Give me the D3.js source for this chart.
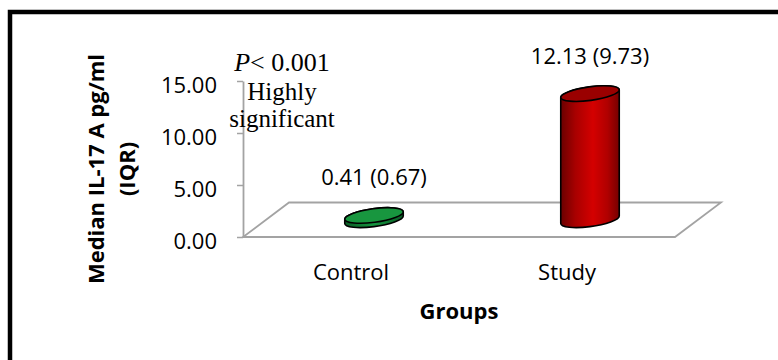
<!DOCTYPE html>
<html>
<head>
<meta charset="utf-8">
<script src="https://cdn.jsdelivr.net/npm/d3@7/dist/d3.min.js"></script>
<style>
  html, body { margin: 0; padding: 0; background: #ffffff; }
  svg { display: block; }
</style>
</head>
<body>
<svg id="chart" width="778" height="360"></svg>
<script>
// Median IL-17 A (IQR) by group
const categories = ["Control", "Study"];
const medians = [0.41, 12.13];
const iqrs = [0.67, 9.73];
const yTicks = [0, 5, 10, 15];
const noteLines = ["Highly", "significant"];

const svg = d3.select("#chart");
const sans = "'Open Sans', 'Noto Sans', sans-serif";
const serif = "'Liberation Serif', 'DejaVu Serif', serif";
const grey = "#a3a3a3";

// outer frame (runs off the right and bottom edges)
svg.append("rect")
  .attr("x", 10).attr("y", 12)
  .attr("width", 820).attr("height", 420)
  .attr("fill", "none").attr("stroke", "#000").attr("stroke-width", 4.5);

// scales on the front plane of the 3-D box
const y = d3.scaleLinear().domain([0, 15]).range([237, 81]);
const x = d3.scaleBand().domain(categories).range([243, 675]);
const depth = { dx: 46, dy: -34.5 };

// floor of the box
const x0 = x.range()[0], x1 = x.range()[1], yb = y(0);
svg.append("path")
  .attr("d", `M${x0},${yb} L${x1},${yb} L${x1 + depth.dx},${yb + depth.dy} L${x0 + depth.dx},${yb + depth.dy} Z`)
  .attr("fill", "none").attr("stroke", grey).attr("stroke-width", 1.8)
  .attr("stroke-linejoin", "miter");

// value axis
const yAxis = svg.append("g")
  .attr("transform", `translate(${x0},0)`)
  .call(d3.axisLeft(y).tickValues(yTicks).tickFormat(d3.format(".2f"))
    .tickSize(6).tickSizeOuter(0).tickPadding(20));
yAxis.select(".domain").attr("stroke", grey).attr("stroke-width", 1.8);
yAxis.selectAll(".tick line").attr("stroke", grey).attr("stroke-width", 1.5);
yAxis.selectAll(".tick text")
  .attr("dy", "0.5em")
  .attr("fill", "#000").style("font-family", sans).style("font-size", "22px");

// category axis labels
const xAxis = svg.append("g")
  .attr("transform", `translate(0,${yb})`)
  .call(d3.axisBottom(x).tickSize(0).tickPadding(27));
xAxis.select(".domain").remove();
xAxis.selectAll(".tick text")
  .attr("fill", "#000").style("font-family", sans).style("font-size", "22px");

// gradients for the cylinders
const defs = svg.append("defs");
function sideGradient(id, stops) {
  const g = defs.append("linearGradient").attr("id", id)
    .attr("x1", "0%").attr("x2", "100%").attr("y1", "0%").attr("y2", "0%");
  stops.forEach(([o, c]) => g.append("stop").attr("offset", o).attr("stop-color", c));
}
sideGradient("redSide", [["0%", "#6a0000"], ["25%", "#a80000"], ["55%", "#d40000"], ["80%", "#b00000"], ["100%", "#760000"]]);
sideGradient("greenSide", [["0%", "#0a5c25"], ["50%", "#159640"], ["100%", "#0a5c25"]]);
const palette = {
  Control: { side: "url(#greenSide)", top: "#18963f" },
  Study: { side: "url(#redSide)", top: "#9a0000" }
};

// cylinder geometry (tilted elliptical caps)
const rx = 29.5, ry = 6.8, tiltDeg = -7.7;
const t = tiltDeg * Math.PI / 180;
const ex = Math.sqrt(rx * rx * Math.cos(t) ** 2 + ry * ry * Math.sin(t) ** 2);
const ey = Math.abs((rx * rx - ry * ry) * Math.sin(t) * Math.cos(t) / ex);

const bars = svg.append("g");
categories.forEach((c, i) => {
  const cx = x(c) + x.bandwidth() / 2 + depth.dx / 2;
  const by = y(0) + depth.dy / 2;
  const ty = y(medians[i]) + depth.dy / 2;
  const g = bars.append("g");
  // side wall with front half of the base
  g.append("path")
    .attr("d", `M${cx - ex},${ty + ey} L${cx - ex},${by + ey} ` +
      `A${rx},${ry} ${tiltDeg} 0 0 ${cx + ex},${by - ey} ` +
      `L${cx + ex},${ty - ey} A${rx},${ry} ${tiltDeg} 0 0 ${cx - ex},${ty + ey} Z`)
    .attr("fill", palette[c].side)
    .attr("stroke", "#000").attr("stroke-width", 1.6).attr("stroke-linejoin", "round");
  // top cap
  g.append("ellipse")
    .attr("cx", 0).attr("cy", 0).attr("rx", rx).attr("ry", ry)
    .attr("transform", `translate(${cx},${ty}) rotate(${tiltDeg})`)
    .attr("fill", palette[c].top)
    .attr("stroke", "#000").attr("stroke-width", 1.6);
  // value label
  svg.append("text")
    .attr("x", cx).attr("y", ty - 30)
    .attr("text-anchor", "middle")
    .style("font-family", sans).style("font-size", "22px")
    .text(`${medians[i].toFixed(2)} (${iqrs[i].toFixed(2)})`);
});

// significance note
const note = svg.append("text")
  .attr("x", 282).attr("y", 71).attr("text-anchor", "middle")
  .style("font-family", serif).style("font-size", "26px");
note.append("tspan").style("font-style", "italic").text("P");
note.append("tspan").text("< 0.001");
noteLines.forEach((s, k) => {
  svg.append("text")
    .attr("x", 282).attr("y", 100 + k * 27).attr("text-anchor", "middle")
    .style("font-family", serif).style("font-size", "25px")
    .text(s);
});

// axis titles
const yTitle = svg.append("text")
  .attr("transform", "translate(0,169) rotate(-90)")
  .attr("text-anchor", "middle")
  .style("font-family", sans).style("font-size", "22px").style("font-weight", "bold");
yTitle.append("tspan").attr("x", 0).attr("y", 104).text("Median IL-17 A pg/ml");
yTitle.append("tspan").attr("x", 0).attr("y", 135).text("(IQR)");

svg.append("text")
  .attr("x", 459).attr("y", 319).attr("text-anchor", "middle")
  .style("font-family", sans).style("font-size", "22px").style("font-weight", "bold")
  .text("Groups");
</script>
</body>
</html>
